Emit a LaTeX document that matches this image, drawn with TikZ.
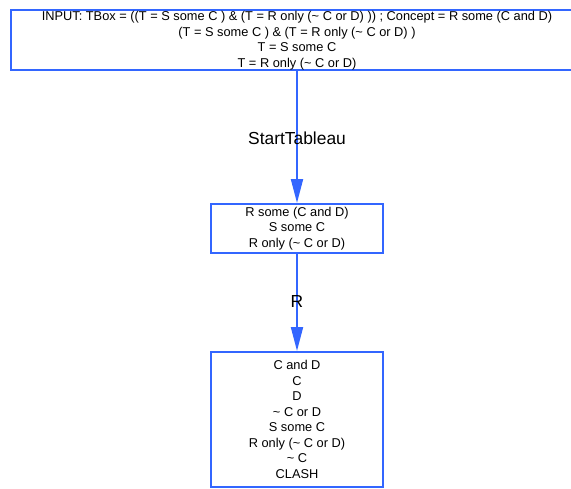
\documentclass[tikz,border=0pt]{standalone}
\usepackage{fontspec}
\setmainfont{Liberation Sans}
\usetikzlibrary{arrows.meta}
\definecolor{edgeblue}{RGB}{51,102,255}
\begin{document}
\begin{tikzpicture}[x=1pt,y=-1pt,
  box/.style={draw=edgeblue,line width=2pt,align=center,font=\fontsize{12.8}{15.5}\selectfont,inner sep=0pt},
  conn/.style={draw=edgeblue,line width=2pt,-{Triangle[length=24pt,width=12pt]}},
  lbl/.style={font=\fontsize{17.4}{19}\selectfont,inner sep=0pt}]
\useasboundingbox (0,0) rectangle (571,488);
\draw[box] (11,10) rectangle (583,70);
\node[box,draw=none] (top) at (297,40.5) {INPUT: TBox = ((T = S some C ) \& (T = R only (\textasciitilde{} C or D) )) ; Concept = R some (C and D)\\(T = S some C ) \& (T = R only (\textasciitilde{} C or D) )\\T = S some C\\T = R only (\textasciitilde{} C or D)};
\coordinate (topb) at (297,70);
\node[box,minimum width=172pt,minimum height=49pt] (mid) at (297,228.5) {R some (C and D)\\S some C\\R only (\textasciitilde{} C or D)};
\node[box,minimum width=172pt,minimum height=135pt] (bot) at (297,419.5) {C and D\\C\\D\\\textasciitilde{} C or D\\S some C\\R only (\textasciitilde{} C or D)\\\textasciitilde{} C\\CLASH};
\draw[conn] (topb) -- (mid.north);
\draw[conn] (mid.south) -- (bot.north);
\node[lbl] (l1) at (297,138) {StartTableau};
\node[lbl] (l2) at (297,302) {R};
\end{tikzpicture}
\end{document}
